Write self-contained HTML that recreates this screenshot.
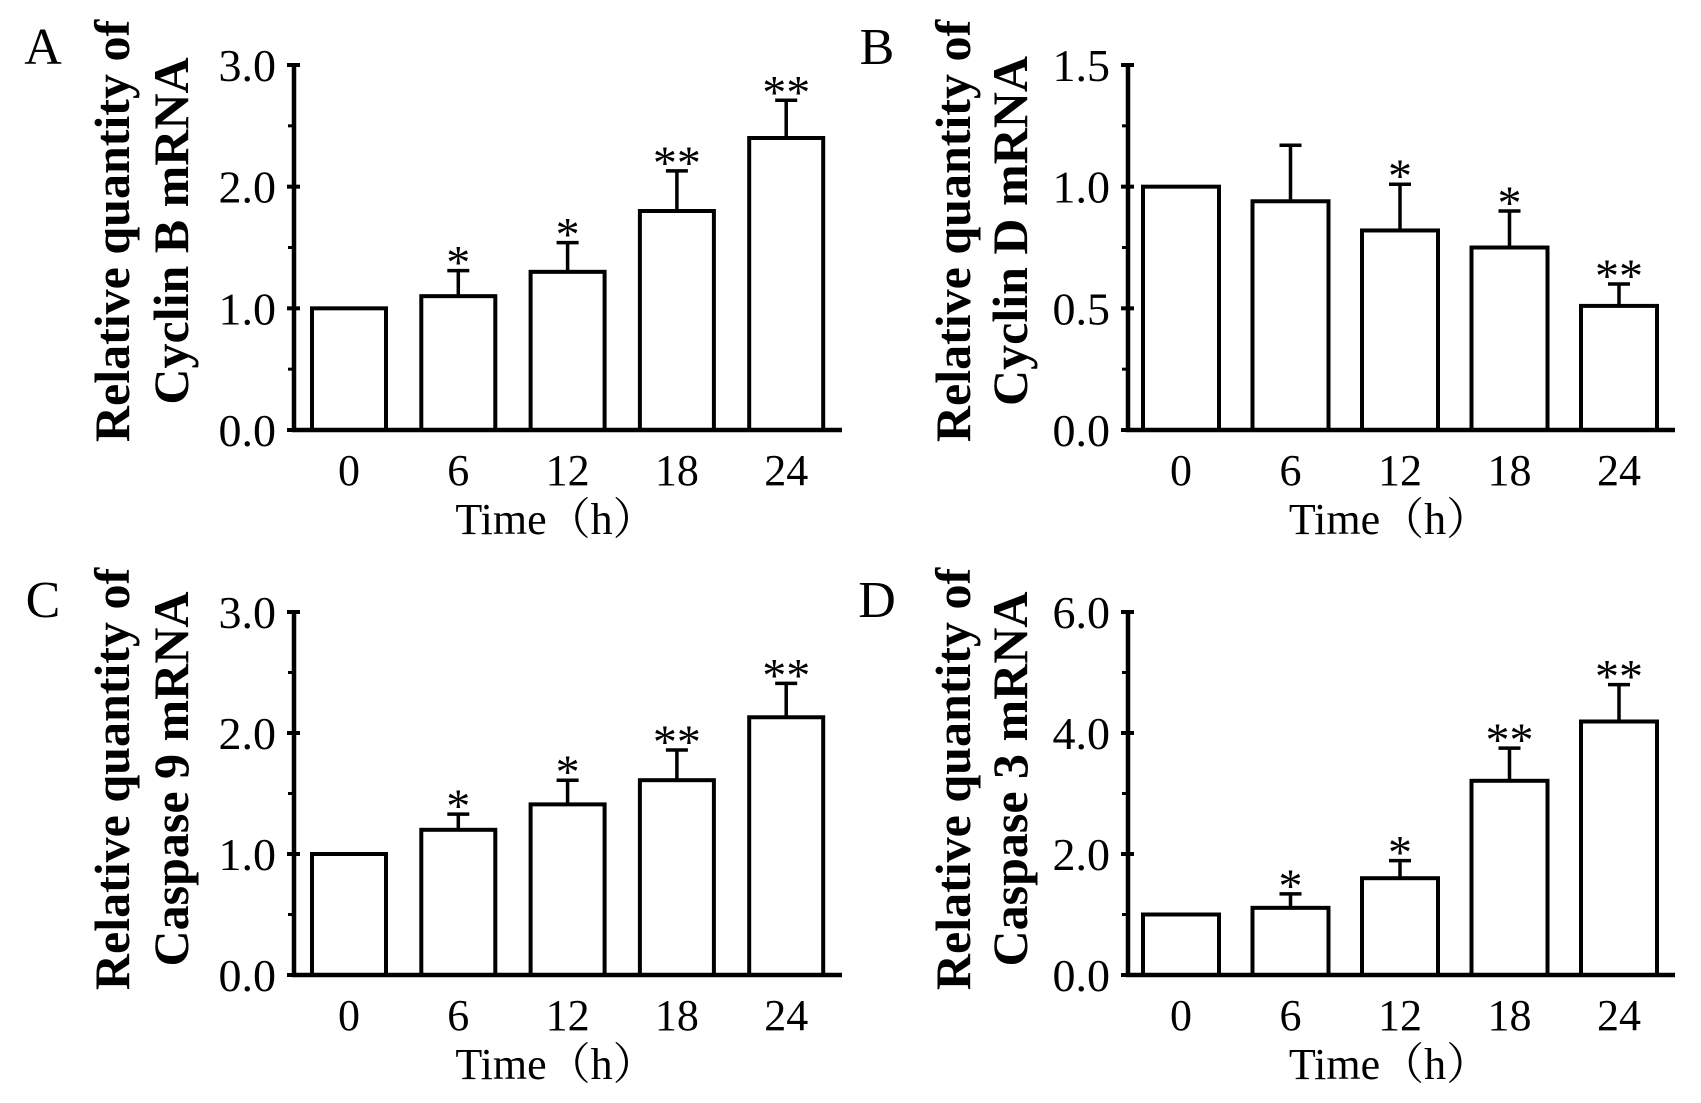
<!DOCTYPE html>
<html><head><meta charset="utf-8">
<style>
html,body{margin:0;padding:0;background:#fff;}
svg{display:block;}
text{font-family:"Liberation Serif","Noto Serif CJK SC",serif;fill:#000;}
</style></head>
<body>
<svg id="fig" width="1701" height="1103" viewBox="0 0 1701 1103"></svg>
<script>
const categories = ["0","6","12","18","24"];
const valuesA = [1.0, 1.1, 1.3, 1.8, 2.4];
const errorsA = [1.0, 1.31, 1.54, 2.13, 2.71];
const starsA = ["", "*", "*", "**", "**"];
const valuesB = [1.0, 0.94, 0.82, 0.75, 0.51];
const errorsB = [1.0, 1.17, 1.01, 0.90, 0.60];
const starsB = ["", "", "*", "*", "**"];
const valuesC = [1.0, 1.2, 1.41, 1.61, 2.13];
const errorsC = [1.0, 1.33, 1.61, 1.86, 2.41];
const starsC = ["", "*", "*", "**", "**"];
const valuesD = [1.0, 1.11, 1.6, 3.21, 4.19];
const errorsD = [1.0, 1.34, 1.89, 3.75, 4.8];
const starsD = ["", "*", "*", "**", "**"];
const ticksAC = [0, 1, 2, 3];
const ticksB = [0, 0.5, 1.0, 1.5];
const ticksD = [0, 2, 4, 6];

const NS = "http://www.w3.org/2000/svg";
const svg = document.getElementById("fig");
function mk(tag, attrs, parent){
  const e = document.createElementNS(NS, tag);
  for (const k in attrs) e.setAttribute(k, attrs[k]);
  (parent||svg).appendChild(e);
  return e;
}
const panels = [
  {id:"a", letter:"A", lx:43, ly:64, ax:294, axEnd:842, base:430, top:65, max:3, ticks:ticksAC, b0:312, step:109.3, bw:74,
   vals:valuesA, errs:errorsA, stars:starsA, t1:"Relative quantity of", t2:"Cyclin B mRNA", tx1:112, tx2:171, tcy:231},
  {id:"b", letter:"B", lx:877, ly:64, ax:1128, axEnd:1675, base:430, top:65, max:1.5, ticks:ticksB, b0:1143, step:109.5, bw:76,
   vals:valuesB, errs:errorsB, stars:starsB, t1:"Relative quantity of", t2:"Cyclin D mRNA", tx1:953, tx2:1010, tcy:231},
  {id:"c", letter:"C", lx:43, ly:617, ax:294, axEnd:842, base:975, top:612, max:3, ticks:ticksAC, b0:312, step:109.3, bw:74,
   vals:valuesC, errs:errorsC, stars:starsC, t1:"Relative quantity of", t2:"Caspase 9 mRNA", tx1:112, tx2:171, tcy:779},
  {id:"d", letter:"D", lx:877, ly:617, ax:1128, axEnd:1675, base:975, top:612, max:6, ticks:ticksD, b0:1143, step:109.5, bw:76,
   vals:valuesD, errs:errorsD, stars:starsD, t1:"Relative quantity of", t2:"Caspase 3 mRNA", tx1:953, tx2:1010, tcy:779}
];
panels.forEach(p => {
  const g = mk("g", {});
  
  
  const y = v => p.base - (v / p.max) * (p.base - p.top);
  const L = mk("text", {x:p.lx, y:p.ly, "font-size":52, "text-anchor":"middle"}, g);
  L.textContent = p.letter;
  
  
  [[p.t1, p.tx1],[p.t2, p.tx2]].forEach((t,i) => {
    const e = mk("text", {x:0, y:0, "font-size":50, "font-weight":"bold", "text-anchor":"middle",
      transform:`translate(${t[1]+17},${p.tcy}) rotate(-90)`}, g);
    e.textContent = t[0];
    
    
  });
  p.ticks.forEach((v, i) => {
    const ty = y(v);
    const tl = mk("line", {x1:p.ax-7, x2:p.ax+6, y1:ty, y2:ty, stroke:"#000", "stroke-width":4}, g);
    
    
    const lab = mk("text", {x:p.ax-18, y:ty+16, "font-size":46, "text-anchor":"end"}, g);
    lab.textContent = v.toFixed(1);
    
    
    if (i < p.ticks.length - 1) {
      const my = y((v + p.ticks[i+1]) / 2);
      const mt = mk("line", {x1:p.ax-6, x2:p.ax, y1:my, y2:my, stroke:"#000", "stroke-width":3}, g);
      
      
    }
  });
  categories.forEach((c, i) => {
    const x = p.b0 + i * p.step, cx = x + p.bw / 2;
    const ey = y(p.errs[i]);
    if (p.errs[i] > p.vals[i] + 0.001) {
      const el = mk("path", {d:`M${cx},${y(p.vals[i])}V${ey}M${cx-11},${ey}H${cx+11}`, stroke:"#000", "stroke-width":3.5, fill:"none"}, g);
      
      
    }
    const r = mk("rect", {x:x, y:y(p.vals[i]), width:p.bw, height:p.base - y(p.vals[i]), fill:"#fff", stroke:"#000", "stroke-width":4}, g);
    
    
    if (p.stars[i]) {
      const s = mk("text", {x:cx, y:ey + 8, "font-size":48, "text-anchor":"middle"}, g);
      s.textContent = p.stars[i];
      
      
    }
    const xl = mk("text", {x:cx, y:p.base + 55, "font-size":44, "text-anchor":"middle"}, g);
    xl.textContent = c;
    
    
  });
  const axes = mk("path", {d:`M${p.ax},${p.top-2}V${p.base}H${p.axEnd}`, stroke:"#000", "stroke-width":4.5, fill:"none"}, g);
  
  
  const xt = mk("text", {x:(p.ax + p.axEnd)/2 - 12, y:p.base + 104, "font-size":44, "text-anchor":"middle"}, g);
  xt.textContent = "Time（h）";
  
  
});
</script>
</body></html>
